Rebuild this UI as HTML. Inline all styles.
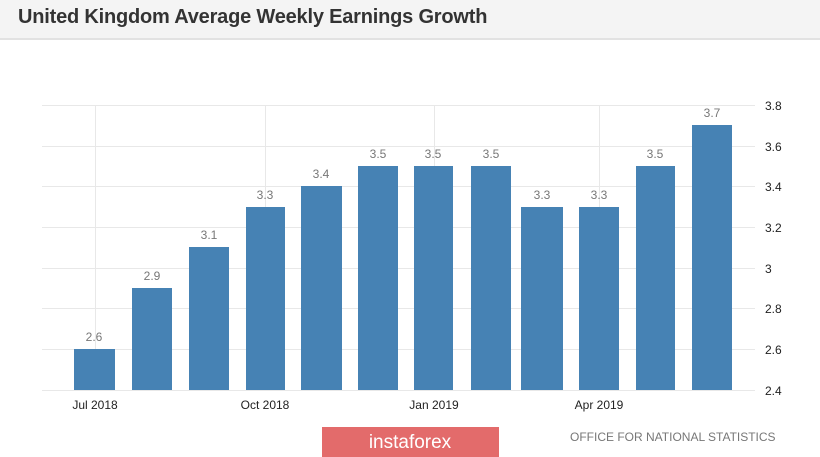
<!DOCTYPE html>
<html><head><style>
body{margin:0;width:820px;height:457px;background:#fff;overflow:hidden;font-family:"Liberation Sans",sans-serif;position:relative}
.hd{position:absolute;left:0;top:0;width:820px;height:38px;background:#f4f4f4;border-bottom:2px solid #e2e2e2}
.hd span{position:absolute;left:18px;top:6px;font-size:20px;font-weight:bold;color:#333;letter-spacing:-0.2px}
</style></head><body>
<div class="hd"><span>United Kingdom Average Weekly Earnings Growth</span></div>
<svg width="820" height="457" style="position:absolute;left:0;top:0">
<g stroke="#e8e8e8" stroke-width="1">
<line x1="42" y1="105.5" x2="755" y2="105.5"/><line x1="42" y1="146.5" x2="755" y2="146.5"/><line x1="42" y1="186.5" x2="755" y2="186.5"/><line x1="42" y1="227.5" x2="755" y2="227.5"/><line x1="42" y1="268.5" x2="755" y2="268.5"/><line x1="42" y1="308.5" x2="755" y2="308.5"/><line x1="42" y1="349.5" x2="755" y2="349.5"/><line x1="42" y1="390.5" x2="755" y2="390.5"/>
<line x1="95.5" y1="105" x2="95.5" y2="390"/><line x1="265.5" y1="105" x2="265.5" y2="390"/><line x1="434.5" y1="105" x2="434.5" y2="390"/><line x1="599.5" y1="105" x2="599.5" y2="390"/>
</g>
<g fill="#4682b4">
<rect x="74" y="349" width="41" height="41"/>
<rect x="132" y="288" width="40" height="102"/>
<rect x="189" y="247" width="40" height="143"/>
<rect x="246" y="207" width="39" height="183"/>
<rect x="301" y="186" width="41" height="204"/>
<rect x="358" y="166" width="40" height="224"/>
<rect x="414" y="166" width="39" height="224"/>
<rect x="471" y="166" width="40" height="224"/>
<rect x="521" y="207" width="42" height="183"/>
<rect x="579" y="207" width="40" height="183"/>
<rect x="636" y="166" width="39" height="224"/>
<rect x="692" y="125" width="40" height="265"/>
</g>
<g fill="#777" font-size="12" text-anchor="middle">
<text x="94" y="341">2.6</text><text x="152" y="280">2.9</text><text x="209" y="239">3.1</text><text x="265" y="199">3.3</text><text x="321" y="178">3.4</text><text x="378" y="158">3.5</text><text x="433" y="158">3.5</text><text x="491" y="158">3.5</text><text x="542" y="199">3.3</text><text x="599" y="199">3.3</text><text x="655" y="158">3.5</text><text x="712" y="117">3.7</text>
</g>
<g fill="#222" font-size="12">
<text x="765" y="110">3.8</text><text x="765" y="151">3.6</text><text x="765" y="191">3.4</text><text x="765" y="232">3.2</text><text x="765" y="273">3</text><text x="765" y="313">2.8</text><text x="765" y="354">2.6</text><text x="765" y="395">2.4</text>
</g>
<g fill="#222" font-size="12" text-anchor="middle">
<text x="95" y="409">Jul 2018</text><text x="265" y="409">Oct 2018</text><text x="434" y="409">Jan 2019</text><text x="599" y="409">Apr 2019</text>
</g>
<rect x="322" y="427" width="177" height="30" fill="#e36b6b"/>
<text x="410" y="448" fill="#fff" font-size="19" text-anchor="middle">instaforex</text>
<text x="570" y="441" fill="#777" font-size="12">OFFICE FOR NATIONAL STATISTICS</text>
</svg>
</body></html>
